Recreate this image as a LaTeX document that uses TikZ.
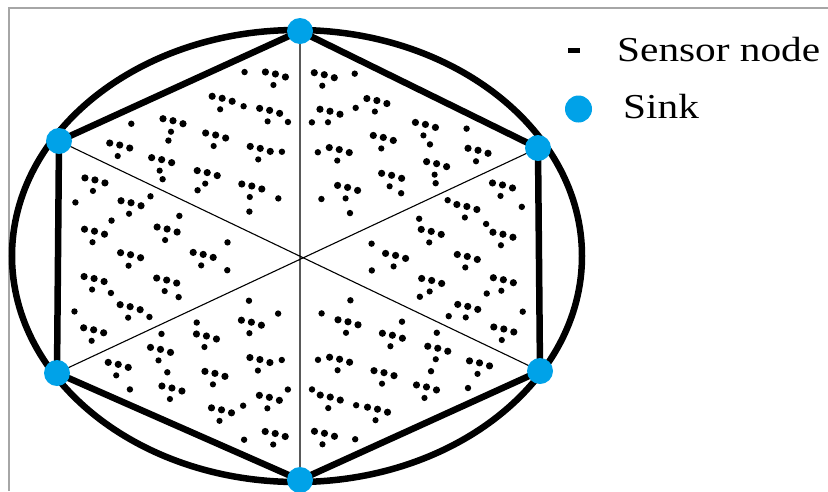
\documentclass[tikz,border=0pt]{standalone}
\usepackage{fontspec}
\setmainfont{Liberation Serif}
\usetikzlibrary{calc}
\definecolor{sinkblue}{RGB}{0,162,232}
\begin{document}
\begin{tikzpicture}[x=1pt,y=-1pt,
  sink/.style={circle,fill=sinkblue,inner sep=0pt,minimum size=26pt},
  thickline/.style={line width=6.5pt},
  spoke/.style={line width=1.1pt},
  legendtext/.style={anchor=base west,inner sep=0pt,font=\fontsize{35}{40}\selectfont}]
\useasboundingbox (0,0) rectangle (828,491);
\fill[white] (0,0) rectangle (828,491);
\draw[gray!70, line width=1.5pt] (9,491) -- (9,8) -- (828,8);
\coordinate (C) at (300,256);
\coordinate (s1) at (300,31);
\coordinate (s2) at (538,148);
\coordinate (s3) at (540,371);
\coordinate (s4) at (300,480);
\coordinate (s5) at (57,373);
\coordinate (s6) at (59,141);
\draw[thickline] (297,256) ellipse [x radius=285, y radius=226];
\draw[thickline, line join=round] (s1)--(s2)--(s3)--(s4)--(s5)--(s6)--cycle;
\draw[spoke] (s1)--(s4) (s2)--(s5) (s3)--(s6);
% sensor nodes
\foreach \a/\b in {s1/s2,s2/s3,s3/s4,s4/s5,s5/s6,s6/s1}{
  \foreach \u/\v in {0.20/0.20, 0.385/0.165, 0.165/0.385, 0.574/0.126, 0.35/0.35, 0.126/0.574, 0.748/0.102, 0.527/0.323, 0.323/0.527, 0.102/0.748}{
    \pgfmathsetmacro\w{1-\u-\v}
    \coordinate (P) at ($\w*(C)+\u*(\a)+\v*(\b)$);
    \fill (P) ++(-10,-4) circle[radius=3.6pt] ++(10,2) circle[radius=3.6pt] ++(10,3) circle[radius=3.6pt] ++(-12,8) circle[radius=3.1pt];
  }
  \foreach \u/\v in {0.425/0.075, 0.075/0.425, 0.57/0.05, 0.05/0.57, 0.546/0.234, 0.234/0.546, 0.70/0.23, 0.23/0.70, 0.21/0.09, 0.09/0.21}{
    \pgfmathsetmacro\w{1-\u-\v}
    \fill ($\w*(C)+\u*(\a)+\v*(\b)$) circle[radius=3.2pt];
  }
}
\foreach \i in {1,...,6} \node[sink] (n\i) at (s\i) {};
% legend
\draw[line width=5pt] (568,50) -- (580,50);
\node[legendtext] (lsens) at (617,61) {\scalebox{1.18}[1]{Sensor node}};
\node[sink, minimum size=27pt] (lsink) at (578.5,109) {};
\node[legendtext] (lsinkt) at (623,118) {\scalebox{1.18}[1]{Sink}};
\end{tikzpicture}
\end{document}
